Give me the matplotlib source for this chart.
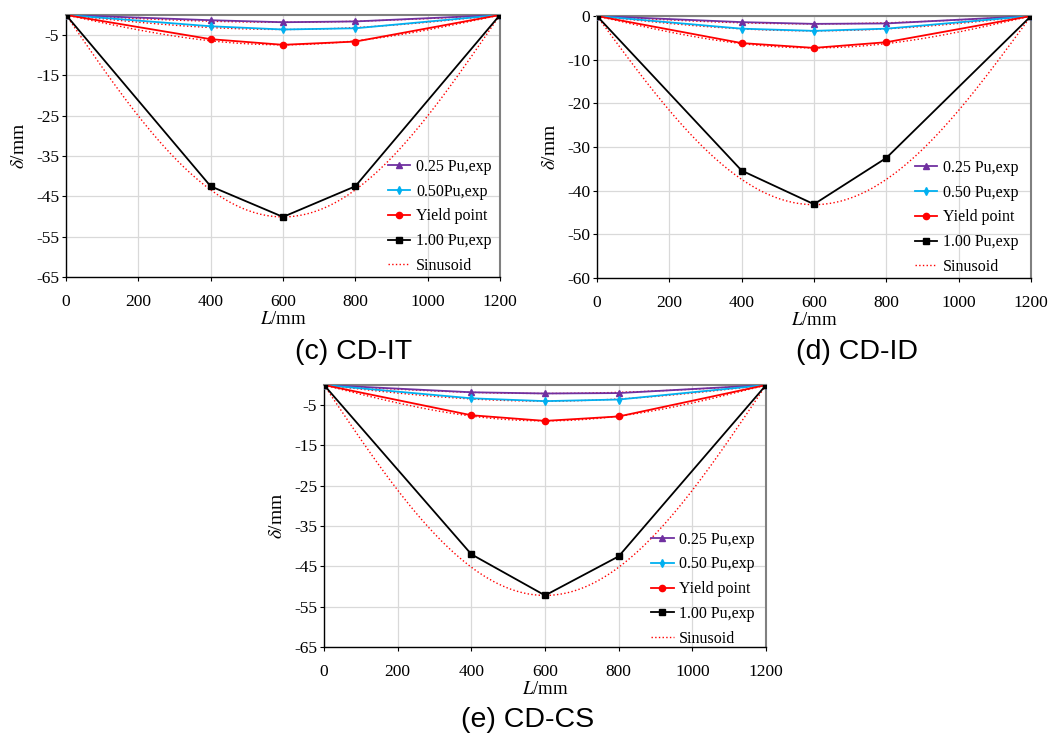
import numpy as np
import matplotlib
matplotlib.use('Agg')
import matplotlib.pyplot as plt

plt.rcParams['font.family'] = 'Liberation Serif'
plt.rcParams['mathtext.fontset'] = 'stix'
plt.rcParams['axes.unicode_minus'] = False

# positions along the span (mm)
L = [0, 400, 600, 800, 1200]

# measured deflections (mm) for each specimen
it_025 = [0, -1.3, -1.8, -1.6, 0]
it_050 = [0, -2.8, -3.6, -3.3, 0]
it_yield = [0, -6.0, -7.4, -6.6, 0]
it_100 = [0, -42.5, -50.1, -42.5, 0]

id_025 = [0, -1.4, -1.8, -1.7, 0]
id_050 = [0, -2.9, -3.4, -2.9, 0]
id_yield = [0, -6.2, -7.3, -6.0, 0]
id_100 = [0, -35.4, -43.1, -32.5, 0]

cs_025 = [0, -1.8, -2.1, -2.0, 0]
cs_050 = [0, -3.3, -4.0, -3.6, 0]
cs_yield = [0, -7.5, -8.9, -7.8, 0]
cs_100 = [0, -42.0, -52.2, -42.5, 0]

# sinusoid amplitudes (mid-span deflection)
it_amp = [1.8, 3.6, 7.4, 50.1]
id_amp = [1.8, 3.4, 7.3, 43.2]
cs_amp = [2.1, 4.0, 8.9, 52.2]

labels_c = ['0.25 Pu,exp', '0.50Pu,exp', 'Yield point', '1.00 Pu,exp', 'Sinusoid']
labels_de = ['0.25 Pu,exp', '0.50 Pu,exp', 'Yield point', '1.00 Pu,exp', 'Sinusoid']

xticks = [0, 200, 400, 600, 800, 1000, 1200]
yticks_ce = [-5, -15, -25, -35, -45, -55, -65]
yticks_d = [0, -10, -20, -30, -40, -50, -60]

colors = ['#7030A0', '#00B0F0', '#FF0000', 'black']
markers = ['^', 'd', 'o', 's']
msizes = [4.5, 4, 4.5, 4.5]

fig = plt.figure(figsize=(10.51, 7.38), dpi=100)


def panel(rect, series, amps, labels, yticks, ylim, leg_xy, caption, cap_xy):
    ax = fig.add_axes(rect)
    xs = np.linspace(0, 1200, 200)
    for a in amps:
        ax.plot(xs, -a * np.sin(np.pi * xs / 1200), ':', color='red', lw=1.0, zorder=2)
    handles = []
    for s, c, m, ms in zip(series, colors, markers, msizes):
        h, = ax.plot(L, s, '-', color=c, marker=m, ms=ms, lw=1.3, zorder=3)
        handles.append(h)
    sin_h, = ax.plot([], [], ':', color='red', lw=1.0)
    handles.append(sin_h)
    ax.set_xlim(0, 1200)
    ax.set_ylim(*ylim)
    ax.set_xticks(xticks)
    ax.set_yticks(yticks)
    ax.grid(True, color='#D9D9D9', lw=0.9)
    ax.set_axisbelow(True)
    ax.tick_params(direction='out', length=3, width=0.8, labelsize=12.5)
    ax.tick_params(axis='x', pad=9)
    ax.tick_params(axis='y', pad=2)
    for side in ['left', 'bottom']:
        ax.spines[side].set_color('black')
        ax.spines[side].set_linewidth(1.0)
    for side in ['top', 'right']:
        ax.spines[side].set_color('#808080')
        ax.spines[side].set_linewidth(1.5)
    ax.set_xlabel(r'$\mathit{L}$/mm', fontsize=13.5, labelpad=1)
    ax.set_ylabel(r'$\delta$/mm', fontsize=14, labelpad=6)
    ax.legend(handles, labels, loc='center left', bbox_to_anchor=leg_xy,
              frameon=False, fontsize=11.5, borderpad=0, borderaxespad=0,
              handlelength=1.4, handletextpad=0.35, labelspacing=0.55)
    fig.text(cap_xy[0], cap_xy[1], caption, ha='center', va='center',
             fontsize=20.5, family='Liberation Sans')
    return ax


panel([0.0628, 0.6247, 0.4129, 0.355],
      [it_025, it_050, it_yield, it_100], it_amp, labels_c,
      yticks_ce, (-65, 0), (0.742, 0.231), '(c) CD-IT', (354 / 1051, 1 - 352 / 738))
panel([0.568, 0.6233, 0.413, 0.355],
      [id_025, id_050, id_yield, id_100], id_amp, labels_de,
      yticks_d, (-60, 0), (0.733, 0.231), '(d) CD-ID', (857 / 1051, 1 - 352 / 738))
panel([0.3083, 0.1233, 0.4206, 0.355],
      [cs_025, cs_050, cs_yield, cs_100], cs_amp, labels_de,
      yticks_ce, (-65, 0), (0.740, 0.221), '(e) CD-CS', (528 / 1051, 1 - 720 / 738))

fig.savefig('out.png', dpi=100)
